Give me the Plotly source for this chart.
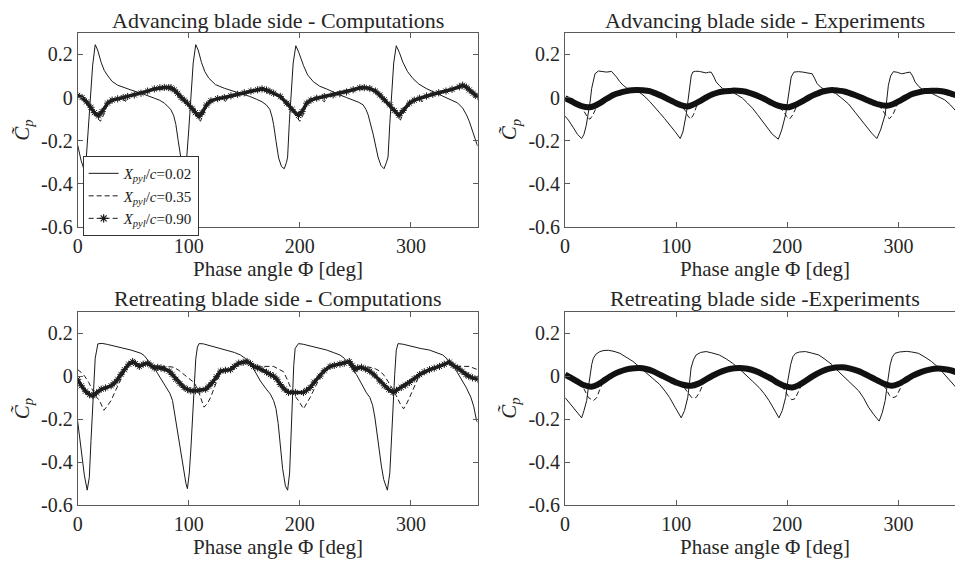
import plotly.graph_objects as go

# ---------------- data (phase angle [deg], Cp~) ----------------
PHI_TICKS = [0, 100, 200, 300]
CP_TICKS = [-0.6, -0.4, -0.2, 0, 0.2]
CP_TICK_TEXT = ["-0.6", "-0.4", "-0.2", "0", "0.2"]

SERIES_NAMES = [
    "<i>X</i><sub><i>pyl</i></sub>/<i>c</i>=0.02",
    "<i>X</i><sub><i>pyl</i></sub>/<i>c</i>=0.35",
    "<i>X</i><sub><i>pyl</i></sub>/<i>c</i>=0.90",
]

PANEL_TITLES = [
    "Advancing blade side - Computations",
    "Advancing blade side - Experiments",
    "Retreating blade side - Computations",
    "Retreating blade side -Experiments",
]

# Advancing side, computations
adv_comp_002 = [(0,-0.22),(3,-0.29),(5.5,-0.33),(7.5,-0.30),(9.5,-0.15),(11.3,0.0),(13.5,0.15),(15.8,0.245),(18,0.22),(21.2,0.162),(24,0.125),(27.2,0.10),(31,0.075),(36.1,0.057),(42,0.045),(48,0.035),(57,0.02),(63,0.01),(69,-0.003),(74,-0.013),(78,-0.026),(81,-0.04),(84,-0.057),(86.5,-0.085),(88.4,-0.125),(90.5,-0.2),(92.9,-0.28),(95.5,-0.33),(98,-0.29),(100,-0.15),(102,0.0),(104,0.16),(106.3,0.245),(108.5,0.22),(111.5,0.162),(114.5,0.12),(118,0.09),(124,0.06),(132,0.043),(140,0.03),(148,0.017),(155,0.005),(161,-0.008),(166,-0.02),(170,-0.035),(173,-0.055),(175,-0.09),(176.4,-0.125),(178.5,-0.2),(180.9,-0.28),(183.5,-0.32),(186,-0.33),(188,-0.30),(189,-0.276),(190.5,-0.12),(191.9,0.0),(194,0.16),(196.4,0.24),(199,0.21),(203.3,0.148),(207,0.105),(212.2,0.073),(218,0.052),(224,0.04),(230,0.025),(236,0.012),(242,0.0),(248,-0.011),(253,-0.022),(257,-0.034),(259.5,-0.055),(261.5,-0.08),(264,-0.125),(266,-0.17),(268.5,-0.23),(270.4,-0.276),(273,-0.315),(275.8,-0.33),(278,-0.30),(279.4,-0.276),(281,-0.12),(282.4,0.0),(284.5,0.16),(286.8,0.24),(289.5,0.21),(292.8,0.163),(297,0.12),(301.8,0.088),(307,0.063),(313.7,0.042),(320,0.027),(325.7,0.015),(331,0.003),(337.6,-0.011),(342,-0.025),(346.6,-0.049),(350,-0.08),(352.5,-0.11),(356,-0.16),(360,-0.225)]
adv_comp_035 = [(0,0.012),(4,0.0),(8,-0.02),(12,-0.05),(16,-0.085),(20.5,-0.11),(23,-0.085),(27,-0.03),(31,-0.012),(36,-0.005),(40,-0.002),(43,-0.018),(46,0.008),(51,0.014),(57,0.022),(63,0.031),(69,0.04),(74,0.044),(78,0.046),(84,0.044),(87,0.034),(90,0.018),(93,0.0),(96,-0.014),(99,-0.03),(103,-0.055),(107,-0.085),(110.5,-0.11),(113,-0.08),(116,-0.035),(120,-0.015),(126,-0.006),(130,-0.004),(133,-0.018),(136,0.004),(144,0.015),(150,0.022),(156,0.03),(162,0.036),(166,0.038),(170,0.033),(173,0.026),(176.4,0.018),(182.4,0.003),(188.3,-0.03),(193,-0.06),(197,-0.09),(200,-0.11),(203,-0.08),(206.2,-0.03),(210,-0.013),(215.2,-0.004),(219,-0.005),(222,-0.02),(225,0.005),(230,0.011),(236,0.018),(242,0.026),(248,0.035),(254,0.043),(258,0.045),(263,0.04),(268,0.028),(272,0.01),(276,-0.012),(281,-0.037),(285,-0.065),(288,-0.09),(290.5,-0.105),(293,-0.075),(298.8,-0.028),(303,-0.012),(307.8,-0.005),(310,-0.02),(313,0.004),(319.7,0.014),(325,0.021),(331.6,0.03),(337,0.038),(343.6,0.048),(346.6,0.053),(350,0.046),(352.5,0.034),(356,0.02),(360,0.006)]
adv_comp_090 = [(0,0.01),(4,0.0),(8,-0.02),(12,-0.045),(15,-0.07),(18.8,-0.085),(22,-0.065),(27,-0.026),(31,-0.012),(36,-0.006),(41,0.0),(45,0.005),(51,0.012),(57,0.02),(63,0.03),(69,0.04),(74,0.045),(78,0.047),(82,0.046),(84,0.045),(87,0.035),(90,0.02),(93,0.0),(96,-0.012),(99,-0.026),(103,-0.05),(106,-0.07),(109.3,-0.087),(112,-0.07),(116,-0.035),(120,-0.015),(126,-0.005),(132,0.0),(138,0.008),(144,0.015),(150,0.022),(156,0.03),(162,0.036),(166,0.04),(170,0.035),(173,0.028),(176.4,0.02),(182.4,0.005),(188.3,-0.026),(193,-0.055),(198.8,-0.083),(202,-0.065),(206.2,-0.026),(210,-0.012),(215.2,-0.003),(222,0.005),(230,0.012),(236,0.018),(242,0.026),(248,0.036),(254,0.045),(258,0.046),(263,0.042),(268,0.03),(272,0.012),(276,-0.01),(281,-0.034),(285,-0.06),(289.3,-0.083),(293,-0.06),(298.8,-0.026),(303,-0.012),(307.8,-0.003),(314,0.007),(319.7,0.015),(325,0.022),(331.6,0.03),(337,0.038),(343.6,0.05),(346.6,0.057),(350,0.048),(352.5,0.035),(356,0.02),(360,0.005)]

# Advancing side, experiments
adv_exp_002 = [(0,-0.086),(3,-0.105),(7.5,-0.14),(11,-0.17),(14.9,-0.19),(17,-0.17),(19,-0.13),(20.9,-0.079),(22.5,-0.02),(23.9,0.042),(25.5,0.085),(26.9,0.11),(29.9,0.123),(33,0.122),(37.3,0.118),(41.8,0.121),(44,0.11),(46.3,0.095),(49,0.075),(52.2,0.057),(55.5,0.044),(59.7,0.035),(63,0.029),(67.2,0.023),(71,0.008),(76.1,-0.018),(80.5,-0.042),(85.1,-0.071),(89.5,-0.097),(94,-0.124),(99,-0.158),(103.6,-0.19),(106,-0.16),(109,-0.079),(110.5,-0.01),(111.9,0.057),(113.5,0.1),(114.9,0.118),(117.5,0.122),(120.9,0.121),(124,0.117),(126.9,0.114),(129,0.117),(131.4,0.118),(133.5,0.1),(135.9,0.073),(139,0.055),(141.8,0.042),(146,0.032),(150.7,0.024),(155,0.012),(159.7,-0.003),(164,-0.025),(168.6,-0.049),(173,-0.078),(177.6,-0.109),(182,-0.14),(186.5,-0.17),(191.9,-0.193),(195,-0.15),(198.5,-0.079),(200,-0.02),(201.5,0.042),(203.5,0.095),(206,0.118),(210,0.12),(214,0.118),(217.9,0.115),(222.4,0.11),(224.5,0.09),(226.8,0.065),(230,0.048),(234.3,0.035),(238.5,0.027),(243.3,0.02),(249,-0.003),(255.2,-0.03),(261,-0.068),(267.1,-0.109),(272,-0.14),(276,-0.165),(280.6,-0.19),(284,-0.15),(288.1,-0.079),(289.6,-0.01),(291,0.057),(293,0.1),(295.5,0.12),(299,0.117),(303,0.11),(306.5,0.114),(310.5,0.118),(312.8,0.1),(315,0.073),(318.5,0.05),(322.4,0.035),(326,0.027),(329.8,0.02),(335.5,0.005),(341.8,-0.011),(347,-0.035),(352.2,-0.064),(356,-0.085),(360,-0.11)]
adv_exp_035 = [(0,-0.003),(5,-0.015),(10.4,-0.03),(15,-0.045),(18,-0.07),(20.5,-0.095),(22.4,-0.1),(24.5,-0.085),(26.9,-0.06),(29,-0.03),(32,-0.01),(37.3,0.005),(43.3,0.018),(49,0.026),(55.2,0.031),(64.2,0.035),(70,0.034),(76.1,0.03),(82,0.018),(88,0.005),(94,-0.011),(100,-0.026),(105,-0.04),(108,-0.06),(110.5,-0.085),(113,-0.1),(115.5,-0.08),(118,-0.045),(121,-0.02),(126.5,0.005),(132.8,0.02),(138,0.027),(144,0.03),(150.7,0.032),(156,0.031),(162.7,0.027),(168,0.018),(174.6,0.005),(180,-0.008),(186.5,-0.026),(191,-0.04),(196,-0.06),(199,-0.085),(202,-0.1),(205,-0.08),(208,-0.045),(211,-0.02),(216,0.0),(222,0.015),(228,0.025),(234,0.032),(240.3,0.035),(246,0.032),(252.3,0.027),(258,0.017),(264.2,0.005),(270,-0.008),(276.1,-0.021),(282,-0.035),(286,-0.06),(289,-0.085),(292,-0.098),(295,-0.08),(297.5,-0.045),(300,-0.02),(305,0.0),(311.9,0.018),(318,0.026),(324,0.03),(329.8,0.032),(335,0.031),(341.8,0.027),(348,0.017),(354,0.007),(360,-0.005)]
adv_exp_090 = [(0,-0.003),(5,-0.015),(10.4,-0.03),(15,-0.04),(21.5,-0.045),(26,-0.04),(31.3,-0.026),(37,-0.007),(43.3,0.012),(49,0.022),(55.2,0.03),(60,0.034),(64.2,0.035),(70,0.034),(76.1,0.03),(82,0.018),(88,0.005),(94,-0.011),(100,-0.026),(105,-0.036),(110.4,-0.041),(115,-0.033),(120.9,-0.018),(126.5,-0.001),(132.8,0.015),(138,0.024),(144,0.029),(150.7,0.032),(156,0.031),(162.7,0.027),(168,0.018),(174.6,0.005),(180,-0.008),(186.5,-0.026),(191,-0.036),(196,-0.043),(201.5,-0.045),(207,-0.035),(213.4,-0.018),(219,-0.001),(225.4,0.015),(232,0.028),(240.3,0.035),(246,0.032),(252.3,0.027),(258,0.017),(264.2,0.005),(270,-0.008),(276.1,-0.021),(282,-0.032),(289.5,-0.038),(295,-0.031),(300,-0.018),(306,-0.001),(311.9,0.015),(318,0.024),(324,0.03),(329.8,0.032),(335,0.031),(341.8,0.027),(348,0.017),(354,0.007),(360,-0.005)]

# Retreating side, computations
ret_comp_002 = [(0,-0.21),(3,-0.33),(6,-0.46),(8.6,-0.53),(10.5,-0.47),(12,-0.3),(13.7,-0.144),(15.8,0.083),(18.2,0.15),(22,0.152),(27,0.147),(36,0.136),(48,0.121),(57,0.106),(60,0.095),(63,0.075),(66,0.058),(69,0.038),(72,0.012),(75,-0.015),(78,-0.04),(80.9,-0.061),(83,-0.08),(85.4,-0.114),(87.5,-0.18),(89.8,-0.265),(92,-0.34),(94,-0.4),(95.8,-0.447),(97.5,-0.5),(98.8,-0.523),(100.5,-0.45),(102,-0.33),(103.3,-0.22),(104.8,-0.07),(106.3,0.08),(107.8,0.135),(109.3,0.151),(113,0.15),(119.7,0.141),(127,0.131),(134.6,0.121),(141,0.11),(146.6,0.098),(151,0.082),(155.5,0.06),(160,0.02),(164.5,-0.023),(169,-0.055),(173.5,-0.084),(176.4,-0.114),(178.5,-0.15),(180.5,-0.22),(182.5,-0.33),(184.5,-0.43),(187,-0.51),(189,-0.53),(190.8,-0.45),(192.8,-0.144),(194.5,0.05),(195.8,0.129),(198.8,0.151),(203,0.148),(209.3,0.141),(216,0.132),(224.2,0.121),(230,0.11),(236.1,0.098),(240,0.083),(243.6,0.06),(247,0.035),(251,0.007),(254,-0.022),(257,-0.053),(260,-0.078),(263,-0.099),(265.5,-0.135),(267.5,-0.19),(269.5,-0.27),(271.5,-0.35),(273.4,-0.417),(275.5,-0.48),(278.8,-0.53),(281,-0.45),(283,-0.22),(285.4,0.007),(286.8,0.12),(288.4,0.151),(293,0.148),(301.8,0.136),(309,0.128),(316.7,0.121),(323,0.11),(328.7,0.098),(333,0.078),(337.6,0.053),(342,0.015),(346.6,-0.023),(350,-0.055),(354,-0.099),(356.5,-0.14),(359,-0.205),(360,-0.215)]
ret_comp_035 = [(0,0.03),(3,0.018),(6.3,0.0),(10,-0.03),(13.7,-0.068),(16.5,-0.095),(19.7,-0.114),(23.6,-0.159),(26.5,-0.14),(30,-0.114),(33,-0.08),(36,-0.045),(39,-0.01),(42,0.02),(46,0.05),(49.5,0.065),(52,0.058),(55.5,0.046),(59,0.054),(63,0.058),(66,0.05),(69,0.042),(73,0.044),(78,0.045),(83,0.044),(87,0.04),(91,0.027),(95.8,0.007),(100,-0.01),(104.8,-0.03),(108,-0.06),(111,-0.11),(113.7,-0.144),(116.5,-0.13),(119.7,-0.099),(122.5,-0.06),(125.6,-0.023),(128.7,0.02),(133,0.027),(137.6,0.03),(141,0.044),(145,0.058),(149,0.063),(152.5,0.066),(155.5,0.056),(158.5,0.048),(164.5,0.045),(170,0.045),(176.4,0.045),(180,0.035),(185.4,0.02),(189,-0.02),(192.8,-0.068),(196,-0.095),(198.8,-0.114),(203.3,-0.152),(206,-0.13),(209.3,-0.099),(212,-0.07),(215.2,-0.039),(218.2,-0.005),(222,0.024),(227.2,0.044),(231,0.05),(236.1,0.055),(240,0.06),(244.5,0.066),(248,0.05),(251,0.045),(257,0.043),(263,0.041),(268,0.034),(272,0.023),(276,0.003),(279.4,-0.023),(283,-0.055),(286.8,-0.091),(290,-0.125),(293.4,-0.152),(296,-0.13),(298.8,-0.099),(301.5,-0.065),(304.7,-0.03),(307.8,0.004),(312,0.019),(316.7,0.029),(321,0.036),(325.7,0.044),(330,0.054),(334.6,0.062),(338,0.05),(342,0.045),(347,0.045),(352.5,0.045),(356,0.038),(360,0.03)]
ret_comp_090 = [(0,-0.015),(3.3,-0.045),(7,-0.07),(10.7,-0.086),(13.7,-0.091),(17,-0.078),(21.2,-0.061),(25,-0.055),(30.1,-0.045),(33,-0.032),(36.1,-0.015),(39,0.008),(42.1,0.03),(46,0.055),(49.5,0.068),(52,0.058),(55.5,0.045),(59,0.055),(63,0.06),(66,0.05),(69,0.038),(72,0.04),(75,0.038),(78,0.033),(82.4,0.023),(85,0.008),(88.4,-0.015),(92,-0.035),(95.8,-0.053),(98.8,-0.062),(101.8,-0.068),(106,-0.068),(110,-0.066),(115.2,-0.061),(118,-0.047),(121.2,-0.03),(125,-0.003),(128.7,0.023),(133,0.027),(137.6,0.03),(141,0.045),(145,0.06),(149,0.064),(152.5,0.068),(155.5,0.058),(158.5,0.045),(162,0.038),(166,0.03),(170,0.018),(173.5,0.007),(176.4,0.0),(179.4,-0.015),(182.4,-0.039),(186,-0.06),(189.8,-0.076),(196,-0.076),(203.3,-0.076),(206,-0.066),(209.3,-0.053),(213,-0.028),(218.2,0.0),(222,0.025),(227.2,0.045),(231,0.05),(236.1,0.056),(240,0.06),(244.5,0.068),(247,0.05),(249.6,0.03),(252,0.038),(255.5,0.041),(259,0.033),(263,0.023),(267,0.005),(272,-0.023),(276,-0.045),(280,-0.062),(283.9,-0.076),(287,-0.066),(291.3,-0.053),(295,-0.042),(298.8,-0.03),(303,-0.012),(307.8,0.007),(312,0.02),(316.7,0.03),(321,0.037),(325.7,0.045),(330,0.055),(334.6,0.065),(338,0.05),(342,0.038),(346,0.022),(349.5,0.007),(352,0.0),(355.5,-0.008),(360,-0.015)]

# Retreating side, experiments
ret_exp_002 = [(0,-0.1),(5,-0.13),(10,-0.165),(14.9,-0.194),(17,-0.16),(19.4,-0.114),(21,-0.05),(22.4,0.007),(24,0.055),(25.4,0.083),(28,0.103),(31.3,0.114),(35,0.119),(38.8,0.12),(44,0.115),(49.3,0.106),(55,0.088),(61.2,0.068),(67,0.042),(73.1,0.015),(79,-0.012),(85,-0.038),(90,-0.07),(94,-0.099),(99,-0.145),(104.5,-0.194),(107.5,-0.16),(110.4,-0.099),(112,-0.03),(113.4,0.038),(115.5,0.075),(117.9,0.098),(122,0.11),(126.9,0.114),(132,0.108),(138.8,0.098),(145,0.08),(150.7,0.06),(157,0.033),(162.7,0.007),(168.5,-0.023),(174.6,-0.053),(179,-0.08),(183.6,-0.114),(188,-0.155),(192.5,-0.194),(195.5,-0.16),(198.5,-0.099),(200.5,-0.02),(203,0.053),(205,0.09),(207.5,0.106),(211,0.112),(216.4,0.114),(222,0.107),(228.4,0.098),(234,0.078),(240.3,0.053),(246,0.022),(252.3,-0.008),(258,-0.038),(264.2,-0.068),(268.5,-0.1),(273.1,-0.144),(278,-0.18),(282.7,-0.209),(285.5,-0.17),(288.1,-0.114),(290.5,-0.02),(292.6,0.053),(294.5,0.088),(297,0.106),(301,0.112),(307.4,0.115),(312,0.112),(317.9,0.106),(324,0.088),(329.8,0.068),(336,0.04),(341.8,0.007),(347,-0.023),(352.2,-0.053),(356,-0.078),(360,-0.1)]
ret_exp_035 = [(0,0.007),(5,-0.007),(10.4,-0.023),(15,-0.04),(18,-0.07),(21,-0.1),(25.4,-0.114),(28.5,-0.1),(31,-0.065),(34,-0.03),(38,0.0),(44,0.02),(52,0.032),(58,0.037),(67.2,0.04),(73,0.035),(79.1,0.024),(86,0.005),(94,-0.015),(100,-0.03),(106,-0.045),(110,-0.07),(114,-0.1),(117.9,-0.1),(121,-0.075),(124,-0.04),(128,-0.01),(134,0.01),(141.8,0.027),(148,0.035),(156.7,0.039),(164,0.034),(171.7,0.023),(179,0.005),(186.5,-0.015),(192,-0.035),(197,-0.06),(200.5,-0.09),(204,-0.11),(207,-0.105),(210,-0.075),(213,-0.04),(217,-0.01),(223,0.01),(231.3,0.028),(238,0.038),(249.2,0.042),(256,0.037),(264.2,0.023),(272,0.004),(279.1,-0.015),(285,-0.035),(289,-0.06),(292,-0.09),(295,-0.1),(298,-0.095),(301,-0.065),(304,-0.035),(308,-0.008),(313,0.01),(320.9,0.024),(328,0.032),(335.8,0.036),(342,0.032),(347.7,0.026),(354,0.015),(360,0.005)]
ret_exp_090 = [(0,0.007),(5,-0.007),(10.4,-0.023),(16,-0.04),(23.9,-0.049),(29,-0.04),(34.3,-0.023),(40,-0.003),(46.3,0.015),(52,0.026),(58,0.034),(67.2,0.038),(73,0.033),(79.1,0.023),(86,0.005),(94,-0.015),(100,-0.03),(106,-0.04),(113.4,-0.045),(120,-0.035),(126.9,-0.015),(134,0.005),(141.8,0.023),(148,0.033),(156.7,0.038),(164,0.034),(171.7,0.023),(179,0.005),(186.5,-0.015),(192,-0.033),(198,-0.047),(204.5,-0.053),(210,-0.043),(216.4,-0.023),(223,0.0),(231.3,0.023),(238,0.035),(249.2,0.041),(256,0.036),(264.2,0.023),(272,0.004),(279.1,-0.015),(286,-0.033),(294,-0.045),(300,-0.037),(306,-0.02),(313,0.002),(320.9,0.02),(328,0.03),(335.8,0.035),(342,0.032),(347.7,0.026),(354,0.015),(360,0.005)]

# ---------------- figure ----------------
W, H = 963, 571
PAGE_OFF = 8          # the page body adds an 8 px margin around the figure
FONT = "Liberation Serif"
INK = "#1a1a1a"
TXT = "#262626"
AXC = "#5a5a5a"


def fx(page_px):
    return (page_px - PAGE_OFF) / W


def fy(page_py):
    return 1 - (page_py - PAGE_OFF) / H


panels = [
    dict(title=PANEL_TITLES[0], data=(adv_comp_002, adv_comp_035, adv_comp_090), x0=73, x1=475, y0=33.3, y1=231.3, exp=False),
    dict(title=PANEL_TITLES[1], data=(adv_exp_002, adv_exp_035, adv_exp_090), x0=563, x1=965, y0=33.3, y1=231.3, exp=True),
    dict(title=PANEL_TITLES[2], data=(ret_comp_002, ret_comp_035, ret_comp_090), x0=73, x1=475, y0=317.5, y1=515, exp=False),
    dict(title=PANEL_TITLES[3], data=(ret_exp_002, ret_exp_035, ret_exp_090), x0=563, x1=965, y0=317.5, y1=515, exp=True),
]


def unzip(s):
    return [p[0] for p in s], [p[1] for p in s]


fig = go.Figure()
annotations = []

for i, pnl in enumerate(panels):
    k = "" if i == 0 else str(i + 1)
    xa, ya = "x" + k, "y" + k
    s002, s035, s090 = pnl["data"]

    x, y = unzip(s002)
    fig.add_trace(go.Scatter(x=x, y=y, mode="lines", xaxis=xa, yaxis=ya, showlegend=False,
                             line=dict(color=INK, width=1), name=SERIES_NAMES[0]))
    x, y = unzip(s035)
    fig.add_trace(go.Scatter(x=x, y=y, mode="lines", xaxis=xa, yaxis=ya, showlegend=False,
                             line=dict(color=INK, width=1, dash="5px,3px"), name=SERIES_NAMES[1]))
    x, y = unzip(s090)
    if pnl["exp"]:
        fig.add_trace(go.Scatter(x=x, y=y, mode="lines", xaxis=xa, yaxis=ya, showlegend=False,
                                 line=dict(color="#111111", width=6, shape="spline", smoothing=0.6),
                                 name=SERIES_NAMES[2]))
    else:
        fig.add_trace(go.Scatter(x=x, y=y, mode="lines+markers", xaxis=xa, yaxis=ya, showlegend=False,
                                 line=dict(color="#1e1e1e", width=3.5),
                                 marker=dict(symbol="asterisk-open", size=6,
                                             line=dict(color="#777777", width=1)),
                                 name=SERIES_NAMES[2]))

    axis_common = dict(showline=True, linecolor=AXC, linewidth=1, mirror="ticks",
                       ticks="inside", ticklen=5, tickcolor=AXC, tickwidth=1,
                       showgrid=False, zeroline=False,
                       tickfont=dict(family=FONT, size=20, color=TXT))
    fig.layout["xaxis" + k] = dict(domain=[fx(pnl["x0"]), fx(pnl["x1"])], range=[0, 360],
                                   anchor=ya, tickvals=PHI_TICKS, ticklabelstandoff=1, **axis_common)
    fig.layout["yaxis" + k] = dict(domain=[fy(pnl["y1"]), fy(pnl["y0"])], range=[-0.6, 0.3],
                                   anchor=xa, tickvals=CP_TICKS, ticktext=CP_TICK_TEXT, **axis_common)

    cx = fx((pnl["x0"] + pnl["x1"]) / 2)
    annotations.append(dict(text=pnl["title"], x=cx, y=fy(pnl["y0"] - 13), xref="paper", yref="paper",
                            xanchor="center", yanchor="middle", showarrow=False, borderpad=0,
                            font=dict(family=FONT, size=22, color=TXT)))
    annotations.append(dict(text="Phase angle \u03a6 [deg]", x=cx, y=fy(pnl["y1"] + 43), xref="paper", yref="paper",
                            xanchor="center", yanchor="middle", showarrow=False, borderpad=0,
                            font=dict(family=FONT, size=21, color=TXT)))
    annotations.append(dict(text="<i>C\u0303</i><sub><i>p</i></sub>", x=fx(pnl["x0"] - 55),
                            y=fy((pnl["y0"] + pnl["y1"]) / 2), xref="paper", yref="paper",
                            xanchor="center", yanchor="middle", showarrow=False, textangle=-90, borderpad=0,
                            font=dict(family=FONT, size=21, color=TXT)))

# legend-only entries (styled like the original legend)
fig.add_trace(go.Scatter(x=[None], y=[None], mode="lines", name=SERIES_NAMES[0],
                         line=dict(color=INK, width=1)))
fig.add_trace(go.Scatter(x=[None], y=[None], mode="lines", name=SERIES_NAMES[1],
                         line=dict(color=INK, width=1, dash="5px,3px")))
fig.add_trace(go.Scatter(x=[None], y=[None], mode="lines+markers", name=SERIES_NAMES[2],
                         line=dict(color=INK, width=1, dash="5px,3px"),
                         marker=dict(symbol="asterisk-open", size=7, line=dict(color=INK, width=1.2))))

fig.update_layout(
    width=W, height=H,
    margin=dict(l=0, r=0, t=0, b=0),
    paper_bgcolor="white", plot_bgcolor="white",
    annotations=annotations,
    showlegend=True,
    legend=dict(x=fx(78), y=fy(159), xanchor="left", yanchor="top",
                bgcolor="white", bordercolor="#333333", borderwidth=1,
                font=dict(family=FONT, size=15, color=INK),
                itemwidth=30, tracegroupgap=0),
)

fig.write_html("out.html")
